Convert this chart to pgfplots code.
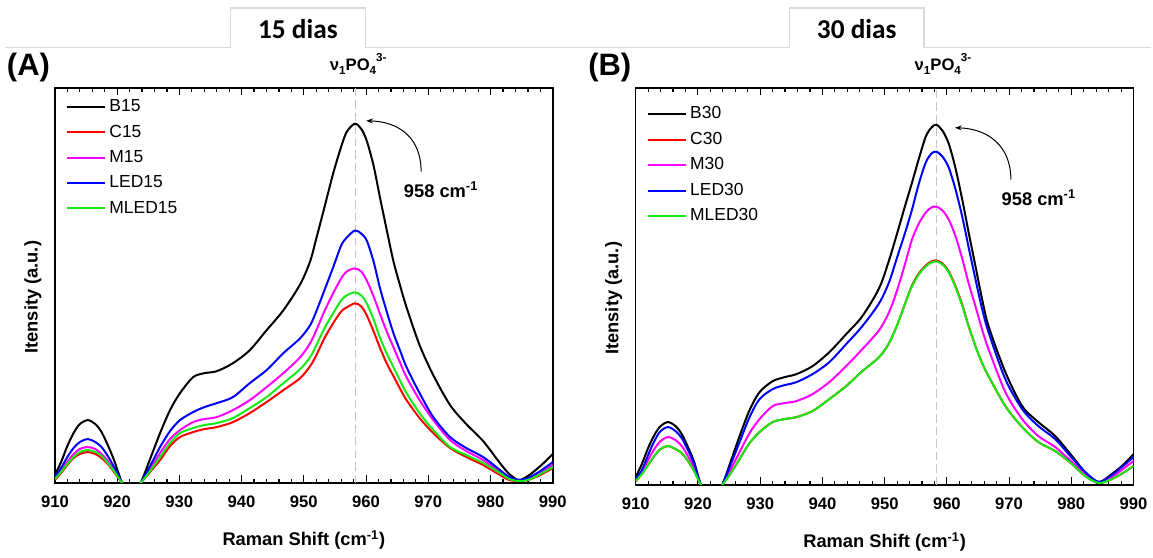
\documentclass[border=0pt]{standalone}
\usepackage{pgfplots}
\pgfplotsset{compat=1.18}
\usepackage{pgfplotstable}
\usepackage{fontspec}
\setmainfont{Liberation Sans}
\newfontfamily\calibri{Carlito}
\usetikzlibrary{arrows.meta}

\definecolor{cB}{RGB}{0,0,0}
\definecolor{cC}{RGB}{255,0,0}
\definecolor{cM}{RGB}{255,0,255}
\definecolor{cL}{RGB}{0,0,255}
\definecolor{cG}{RGB}{20,235,20}
\definecolor{tabgray}{RGB}{217,217,217}

\pgfplotstableread{
x B C M LED MLED
910 8 3 5 6 4
911 21 10 12 15 11
912 37 18 21 26 19
913 50 25 29 35 26
914 59 29 34 41 31
915.3 63 31 36 44 33
916.5 59 29 34 41 31
917.5 51 25 29 36 27
918.5 38 19 22 27 20
919.5 23 11 13 16 12
920.8 0 0 0 0 0
922.3 -18 -11 -13 -15 -12
923.8 0 0 0 0 0
925.3 24 11 14 17 12
926.9 50 23 30 36 26
928.5 73 37 44 52 40
930.1 90 46 53 63 50
932.2 106 51 61 71 55
934 110 54 64 76 58
936 112 56 66 80 60
938.6 120 61 73 86 65
941.3 133 70 83 100 75
944 153 81 96 113 86
946.7 173 93 110 130 100
949.4 199 105 126 145 114
951 222 117 140 158 126
952 245 128 153 172 138
953.3 276 145 172 193 155
954.7 310 160 190 216 170
956 337 172 205 238 183
956.9 352 176 212 246 188
958.2 360 180 215 253 191
959.2 355 177 212 250 188
960.1 343 168 203 243 180
961.2 318 152 187 222 164
962.2 287 136 170 196 146
963.3 254 120 152 172 130
964.4 222 107 136 150 116
965.5 197 94 120 132 102
966.5 176 83 106 116 90
968.6 138 65 83 90 70
970.8 108 50 63 66 53
973.5 78 35 43 46 36
976.1 59 26 32 35 28
978.8 42 18 23 26 20
981.5 20 8 11 13 10
983 9 3 5 6 4
984.5 3 2 3 3 2
986 7 3 4 5 3
988 17 8 10 12 9
990 29 15 18 21 16
}\dataA

\pgfplotstableread{
x B C M LED MLED
910 8 4 5 6 4
911 21 11 13 15 11
912 37 20 25 30 20
913 50 29 36 44 29
914 59 36 44 54 36
915.2 63 39 48 58 39
916.4 59 36 45 54 36
917.4 51 32 39 47 32
918.4 38 24 29 35 24
919.4 23 14 17 21 14
920.5 0 0 0 0 0
922.2 -18 -13 -15 -17 -13
923.9 0 0 0 0 0
925.3 24 12 16 21 12
926.7 49 26 33 43 26
928.3 75 42 52 68 42
929.9 93 53 66 86 53
932 104 63 79 96 63
933.9 108 66 82 100 66
935.8 111 68 84 103 68
938.4 119 74 91 111 74
941.1 133 86 103 123 86
943.8 151 99 119 141 99
946.4 169 114 136 159 114
949.1 197 128 155 182 128
950.7 225 142 173 203 142
952 252 160 195 228 160
953.3 280 182 222 253 182
954.4 303 200 246 276 199
955.5 327 212 262 302 211
956.6 349 220 273 323 219
957.5 358 224 278 332 223
958.3 361 225 279 334 224
959.3 355 222 275 329 221
960.3 342 214 266 318 213
961.4 317 199 249 296 198
962.5 285 180 226 268 179
963.5 253 159 202 238 159
964.6 219 139 179 206 139
965.6 188 123 157 178 123
966.7 159 109 136 153 109
969.4 113 79 93 106 79
972.1 79 58 66 76 58
974.7 63 43 49 59 43
977.4 49 34 38 46 34
980.1 29 21 23 27 21
982.2 13 9 11 13 9
984.4 3 2 2 3 2
986.5 11 6 8 10 6
988.3 20 12 16 19 12
990 31 19 24 28 19
}\dataB

\pgfplotsset{
  ramanaxis/.style={
    scale only axis, width=299.4pt,
    xmin=910, xmax=990, ymin=0,
    xtick={910,920,...,990}, minor x tick num=4, ytick=\empty,
    tick align=inside, major tick length=4.5pt, minor tick length=2.5pt,
    axis line style={line width=0.9pt},
    every tick/.style={black, line width=0.7pt},
    /pgf/number format/assume math mode=true,
    /pgf/number format/set thousands separator={},
    xticklabel style={font=\bfseries\fontsize{10}{12}\selectfont, yshift=-4.5pt},
    xlabel={Raman Shift (cm\textsuperscript{-1})},
    ylabel={Itensity (a.u.)},
    label style={font=\bfseries\fontsize{11}{13}\selectfont},
    xlabel style={at={(axis description cs:0.5,-0.144)}, anchor=center},
    ylabel style={at={(axis description cs:-0.044,0.47)}, anchor=center},
    legend cell align=left,
    legend style={draw=none, fill=none, font=\fontsize{10.5}{12}\selectfont,
      anchor=north west, row sep=2.5pt},
    legend image code/.code={\draw[#1, line width=1.2pt] (0pt,0pt) -- (22.8pt,0pt);},
    every axis plot/.append style={line width=1.2pt, smooth},
  }
}

\begin{document}
\begin{tikzpicture}
\begin{scope}[x=0.6pt, y=-0.6pt]
\useasboundingbox (0,0) rectangle (1153,551);
\end{scope}

% Panel A
\begin{axis}[ramanaxis, height=237.6pt, ymax=396,
  at={(33pt,-290.4pt)}, anchor=south west,
  legend style={at={(axis description cs:0.012,0.988)}}]
\addplot[gray!45, line width=0.6pt, dash pattern=on 5pt off 2.5pt, forget plot, sharp plot] coordinates {(958.3,0) (958.3,396)};
\addplot[cB] table[x=x, y=B] {\dataA};
\addplot[cC] table[x=x, y=C] {\dataA};
\addplot[cM] table[x=x, y=M] {\dataA};
\addplot[cL] table[x=x, y=LED] {\dataA};
\addplot[cG] table[x=x, y=MLED] {\dataA};
\legend{B15, C15, M15, LED15, MLED15}
\end{axis}

% Panel B
\begin{axis}[ramanaxis, height=238.8pt, ymax=398,
  at={(382.2pt,-291.6pt)}, anchor=south west,
  legend style={at={(axis description cs:0.012,0.97)}}]
\addplot[gray!45, line width=0.6pt, dash pattern=on 5pt off 2.5pt, forget plot, sharp plot] coordinates {(958.3,0) (958.3,398)};
\addplot[cB] table[x=x, y=B] {\dataB};
\addplot[cC] table[x=x, y=C] {\dataB};
\addplot[cM] table[x=x, y=M] {\dataB};
\addplot[cL] table[x=x, y=LED] {\dataB};
\addplot[cG] table[x=x, y=MLED] {\dataB};
\legend{B30, C30, M30, LED30, MLED30}
\end{axis}

\begin{scope}[x=0.6pt, y=-0.6pt]
\draw[tabgray, line width=0.7pt] (5,48) -- (231,48) -- (231,8) -- (366,8) -- (366,48) -- (791,48) -- (791,8) -- (926,8) -- (926,48) -- (1153,48);
\node[font=\calibri\bfseries\fontsize{16.4}{18}\selectfont] at (298.5,29) {15 dias};
\node[font=\calibri\bfseries\fontsize{16.4}{18}\selectfont] at (858.5,29) {30 dias};
\node[font=\bfseries\fontsize{18.6}{20}\selectfont] at (28.5,68) {(A)};
\node[font=\bfseries\fontsize{18.6}{20}\selectfont] at (611,68) {(B)};
\node[font=\bfseries\fontsize{10}{12}\selectfont] at (359,64) {ν\raisebox{-2.5pt}{\scriptsize 1}PO\raisebox{-2.5pt}{\scriptsize 4}\raisebox{5pt}{\scriptsize 3-}};
\node[font=\bfseries\fontsize{10}{12}\selectfont] at (945,64) {ν\raisebox{-2.5pt}{\scriptsize 1}PO\raisebox{-2.5pt}{\scriptsize 4}\raisebox{5pt}{\scriptsize 3-}};
\node[font=\bfseries\fontsize{11}{13}\selectfont] at (442,190) {958 cm\textsuperscript{-1}};
\node[font=\bfseries\fontsize{11}{13}\selectfont] at (1041,198) {958 cm\textsuperscript{-1}};
\draw[-{Stealth[length=4pt,width=3pt]}, line width=0.6pt] (422,172) .. controls (422,138) and (400,122) .. (367,121);
\draw[-{Stealth[length=4pt,width=3pt]}, line width=0.6pt] (1013,180) .. controls (1013,146) and (990,129) .. (957,128);
\end{scope}
\end{tikzpicture}
\end{document}
